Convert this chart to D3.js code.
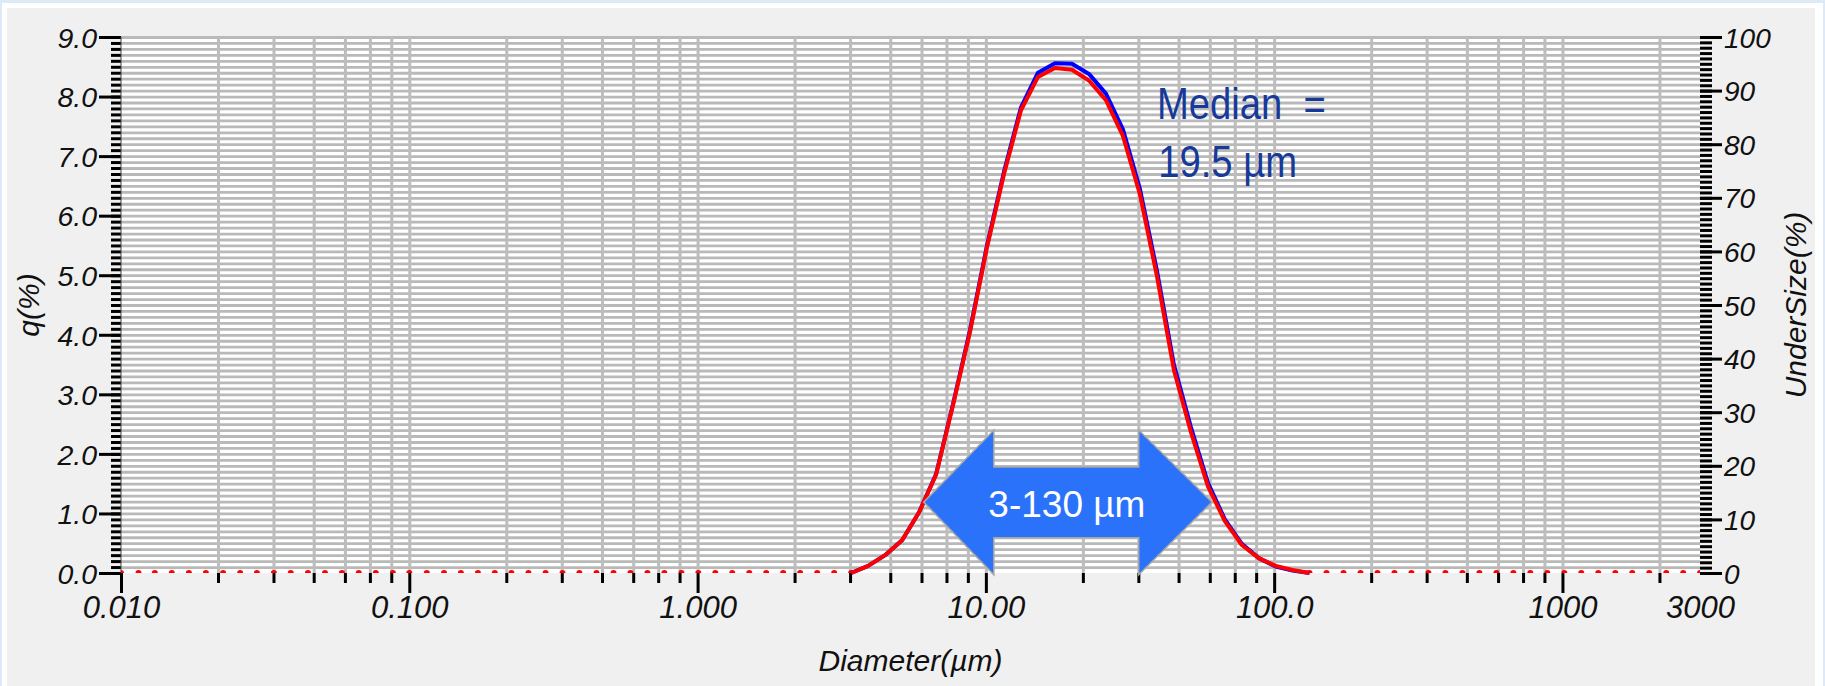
<!DOCTYPE html>
<html>
<head>
<meta charset="utf-8">
<script src="https://cdn.jsdelivr.net/npm/d3@7"></script>
<style>
  body { margin: 0; background: #dce9f6; }
  svg { display: block; font-family: "Liberation Sans", Arial, sans-serif; }
  .axis text { font-style: italic; fill: #111; }
  .axis .domain { display: none; }
</style>
</head>
<body>
<div id="chart"></div>
<script>
// channel diameters (um)
const diameters = [
    0.0100, 0.0115, 0.0131, 0.0150, 0.0172, 0.0197, 0.0226, 0.0259, 0.0296, 0.0339,
    0.0388, 0.0445, 0.0510, 0.0584, 0.0668, 0.0765, 0.0877, 0.100, 0.115, 0.132,
    0.151, 0.173, 0.198, 0.226, 0.259, 0.297, 0.340, 0.389, 0.446, 0.511,
    0.585, 0.670, 0.767, 0.879, 1.006, 1.152, 1.319, 1.511, 1.730, 1.981,
    2.269, 2.599, 2.977, 3.409, 3.905, 4.472, 5.122, 5.866, 6.718, 7.694,
    8.812, 10.09, 11.56, 13.24, 15.16, 17.37, 19.89, 22.78, 26.09, 29.88,
    34.22, 39.19, 44.89, 51.41, 58.88, 67.44, 77.23, 88.46, 101.1, 115.8,
    132.6, 151.9, 174.0, 199.3, 228.2, 261.4, 299.3, 342.8, 392.6, 449.7,
    515.0, 589.9, 675.6, 773.7, 886.1, 1015, 1162, 1331, 1525, 1746,
    2000, 2291, 2623, 3000
];

// q (%) per channel, red and blue measurement
const qRed = [
    0, 0, 0, 0, 0, 0, 0, 0, 0, 0, 0,
    0, 0, 0, 0, 0, 0, 0, 0, 0, 0, 0,
    0, 0, 0, 0, 0, 0, 0, 0, 0, 0, 0,
    0, 0, 0, 0, 0, 0, 0, 0, 0, 0, 0,
    0.12, 0.30, 0.55, 1.02, 1.65, 2.82, 4.05, 5.47, 6.70, 7.77,
    8.33, 8.48, 8.45, 8.27, 7.94, 7.34, 6.36, 4.99, 3.41, 2.37,
    1.46, 0.87, 0.47, 0.25, 0.12, 0.05,
    0, 0, 0, 0, 0, 0, 0, 0, 0, 0, 0, 0,
    0, 0, 0, 0, 0, 0, 0, 0, 0, 0, 0, 0
];
const qBlue = [
    0, 0, 0, 0, 0, 0, 0, 0, 0, 0, 0,
    0, 0, 0, 0, 0, 0, 0, 0, 0, 0, 0,
    0, 0, 0, 0, 0, 0, 0, 0, 0, 0, 0,
    0, 0, 0, 0, 0, 0, 0, 0, 0, 0, 0,
    0.12, 0.30, 0.55, 1.02, 1.66, 2.84, 4.08, 5.50, 6.74, 7.82,
    8.40, 8.56, 8.55, 8.38, 8.05, 7.45, 6.45, 5.08, 3.50, 2.45,
    1.52, 0.90, 0.49, 0.25, 0.11, 0.04,
    0, 0, 0, 0, 0, 0, 0, 0, 0, 0, 0, 0,
    0, 0, 0, 0, 0, 0, 0, 0, 0, 0, 0, 0
];

// axis ticks
const decades = [0.01, 0.1, 1, 10, 100, 1000];
const gridSteps = [2.17, 3.38, 4.66, 5.98, 7.30, 8.66];
const xLabelValues = [0.01, 0.1, 1, 10, 100, 1000, 3000];
const xLabelText = ["0.010", "0.100", "1.000", "10.00", "100.0", "1000", "3000"];
const qMajor = [0, 1, 2, 3, 4, 5, 6, 7, 8, 9];
const underMajor = [0, 10, 20, 30, 40, 50, 60, 70, 80, 90, 100];

const W = 1825, H = 686;
const plot = { left: 121, right: 1700, top: 37, bottom: 573 };

const svg = d3.select("#chart").append("svg")
    .attr("width", W)
    .attr("height", H);

// frame
svg.append("rect").attr("x", 2).attr("y", 3).attr("width", W - 4).attr("height", H).attr("fill", "#fff");
svg.append("rect").attr("x", 7).attr("y", 8).attr("width", 1808).attr("height", H).attr("fill", "#f0f0f0");

const x = d3.scaleLog().domain([0.01, 3000]).range([plot.left, plot.right]);
const y = d3.scaleLinear().domain([0, 9]).range([plot.bottom, plot.top]);
const y2 = d3.scaleLinear().domain([0, 100]).range([plot.bottom, plot.top]);

const plotW = plot.right - plot.left;
const plotH = plot.bottom - plot.top;

svg.append("rect")
    .attr("x", plot.left).attr("y", plot.top)
    .attr("width", plotW).attr("height", plotH)
    .attr("fill", "#fff");

const minorX = decades.flatMap(d => gridSteps.map(s => d * s)).filter(v => v < 3000);
const qMinor = d3.range(0, 91).map(i => i / 10);
const underMinor = d3.range(0, 101);

// grid
const hGrid = svg.append("g")
    .attr("class", "grid")
    .attr("transform", `translate(${plot.left},0)`)
    .call(d3.axisLeft(y)
        .tickValues(qMinor.filter(v => v > 0))
        .tickSize(-plotW)
        .tickFormat(""));
hGrid.select(".domain").remove();
hGrid.selectAll("line").attr("stroke", "#b9b9b9").attr("stroke-width", 2.8);

const vGrid = svg.append("g")
    .attr("class", "grid")
    .attr("transform", `translate(0,${plot.bottom})`)
    .call(d3.axisBottom(x)
        .tickValues(minorX.concat(decades.slice(1)))
        .tickSize(-plotH)
        .tickFormat(""));
vGrid.select(".domain").remove();
vGrid.selectAll("line").attr("stroke", "#bdbdbd").attr("stroke-width", 3);

// axes
function styleTicks(g) {
    g.select(".domain").remove();
    g.selectAll("line").attr("stroke", "#000").attr("stroke-width", 3);
}

svg.append("g").attr("class", "axis")
    .attr("transform", `translate(${plot.left},0)`)
    .call(d3.axisLeft(y).tickValues(qMinor).tickSize(10).tickFormat(""))
    .call(styleTicks);

svg.append("g").attr("class", "axis")
    .attr("transform", `translate(${plot.left},0)`)
    .call(d3.axisLeft(y).tickValues(qMajor).tickSize(22).tickPadding(2).tickFormat(d3.format(".1f")))
    .call(styleTicks)
    .selectAll("text").style("font-size", "28.5px").attr("dy", "0.36em");

svg.append("line")
    .attr("x1", plot.left).attr("x2", plot.left)
    .attr("y1", plot.top).attr("y2", plot.bottom)
    .attr("stroke", "#444").attr("stroke-width", 1);

svg.append("g").attr("class", "axis")
    .attr("transform", `translate(${plot.right},0)`)
    .call(d3.axisRight(y2).tickValues(underMinor).tickSize(12).tickFormat(""))
    .call(styleTicks);

svg.append("g").attr("class", "axis")
    .attr("transform", `translate(${plot.right},0)`)
    .call(d3.axisRight(y2).tickValues(underMajor).tickSize(22).tickPadding(2).tickFormat(d3.format("d")))
    .call(styleTicks)
    .selectAll("text").style("font-size", "28px").attr("dy", "0.36em");

svg.append("g").attr("class", "axis")
    .attr("transform", `translate(0,${plot.bottom})`)
    .call(d3.axisBottom(x).tickValues(minorX).tickSize(10).tickFormat(""))
    .call(styleTicks);

svg.append("g").attr("class", "axis")
    .attr("transform", `translate(0,${plot.bottom})`)
    .call(d3.axisBottom(x).tickValues(decades).tickSize(20).tickFormat(""))
    .call(styleTicks);

svg.append("g").attr("class", "axis")
    .attr("transform", `translate(0,${plot.bottom})`)
    .call(d3.axisBottom(x).tickValues(xLabelValues).tickSize(0).tickPadding(23)
        .tickFormat((d, i) => xLabelText[i]))
    .call(styleTicks)
    .selectAll("text").style("font-size", "31px");

// axis titles
svg.append("text")
    .attr("x", (plot.left + plot.right) / 2)
    .attr("y", 671)
    .attr("text-anchor", "middle")
    .style("font-size", "30px").style("font-style", "italic").attr("fill", "#111")
    .text("Diameter(µm)");

svg.append("text")
    .attr("transform", `translate(39,${(plot.top + plot.bottom) / 2}) rotate(-90)`)
    .attr("text-anchor", "middle")
    .style("font-size", "30px").style("font-style", "italic").attr("fill", "#111")
    .text("q(%)");

svg.append("text")
    .attr("transform", `translate(1806,${(plot.top + plot.bottom) / 2}) rotate(-90)`)
    .attr("text-anchor", "middle")
    .style("font-size", "30px").style("font-style", "italic").attr("fill", "#111")
    .text("UnderSize(%)");

// data
const points = (q) => diameters.map((d, i) => ({ d: d, q: q[i], i: i }));
const onCurve = (q) => (p) => p.q > 0 || q[p.i - 1] > 0 || q[p.i + 1] > 0;

svg.append("clipPath").attr("id", "plot-clip")
    .append("rect")
    .attr("x", plot.left).attr("y", plot.top - 10)
    .attr("width", plotW).attr("height", plotH + 10);

const line = d3.line()
    .x(p => x(p.d))
    .y(p => y(p.q));

svg.append("g")
    .attr("clip-path", "url(#plot-clip)")
    .selectAll("circle")
    .data(points(qRed).filter(p => p.q === 0))
    .enter()
    .append("circle")
    .attr("cx", p => x(p.d))
    .attr("cy", p => y(p.q))
    .attr("r", 3)
    .attr("fill", "#ff0000");

svg.append("path")
    .datum(points(qBlue).filter(onCurve(qBlue)))
    .attr("d", line)
    .attr("fill", "none")
    .attr("stroke", "#0000ff")
    .attr("stroke-width", 4)
    .attr("stroke-linejoin", "round");

svg.append("path")
    .datum(points(qRed).filter(onCurve(qRed)))
    .attr("d", line)
    .attr("fill", "none")
    .attr("stroke", "#ff0000")
    .attr("stroke-width", 4)
    .attr("stroke-linejoin", "round");

// range arrow, in data units (um, q%)
const arrow = [
    [6.09, 1.19], [10.66, 2.40], [10.66, 1.78], [33.9, 1.78], [33.9, 2.40],
    [60.9, 1.19], [33.9, -0.03], [33.9, 0.59], [10.66, 0.59], [10.66, -0.03]
];
svg.append("polygon")
    .attr("points", arrow.map(p => `${x(p[0])},${y(p[1])}`).join(" "))
    .attr("fill", "#2b72fb")
    .attr("stroke", "#a8a8a8")
    .attr("stroke-width", 1.5);

svg.append("text")
    .attr("x", x(19.1))
    .attr("y", y(0.94))
    .attr("text-anchor", "middle")
    .style("font-size", "37px")
    .attr("fill", "#fff")
    .text("3-130 µm");

svg.append("text")
    .attr("transform", `translate(${x(39.2)},${y(7.62)}) scale(0.85,1)`)
    .style("font-size", "45px")
    .style("white-space", "pre")
    .attr("fill", "#16399a")
    .text("Median  =");

svg.append("text")
    .attr("transform", `translate(${x(39.6)},${y(6.65)}) scale(0.85,1)`)
    .style("font-size", "45px")
    .attr("fill", "#16399a")
    .text("19.5 µm");
</script>
</body>
</html>
